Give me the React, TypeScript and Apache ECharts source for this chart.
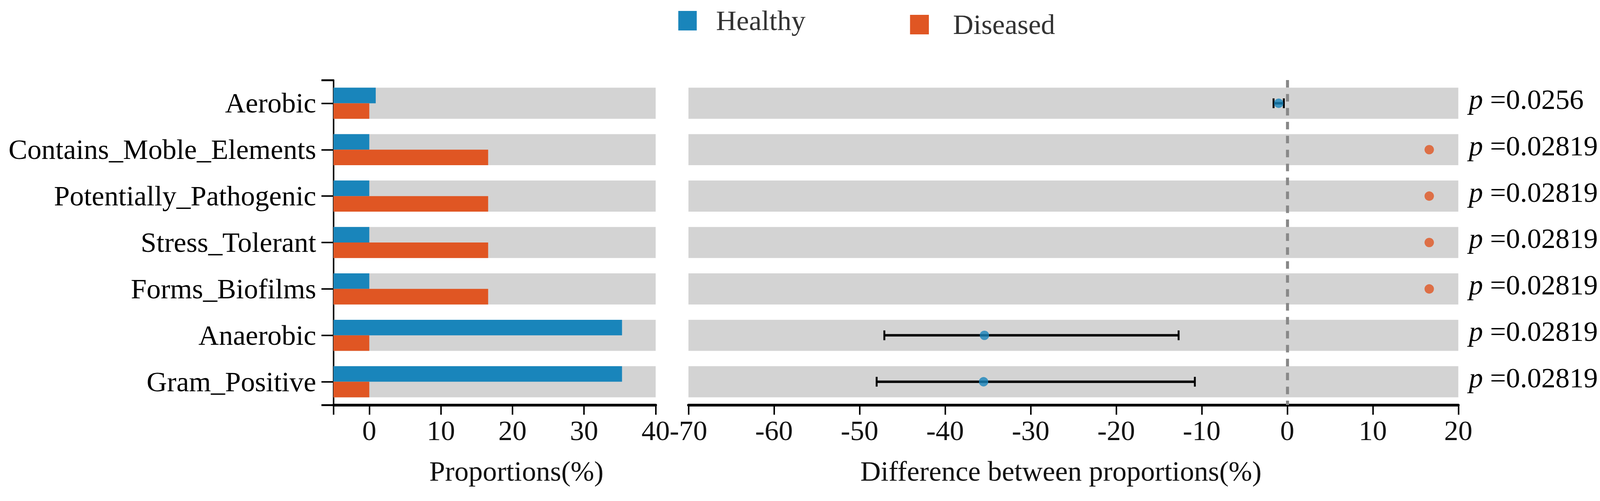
import React, { useEffect, useRef } from "react";
import * as echarts from "echarts";

const categories = [
  "Aerobic",
  "Contains_Moble_Elements",
  "Potentially_Pathogenic",
  "Stress_Tolerant",
  "Forms_Biofilms",
  "Anaerobic",
  "Gram_Positive",
];
const healthy = [0.9, 0, 0, 0, 0, 35.3, 35.3];
const diseased = [0, 16.6, 16.6, 16.6, 16.6, 0, 0];
const diffMean = [-1.0, 16.6, 16.6, 16.6, 16.6, -35.4, -35.5];
const ciLow: (number | null)[] = [-1.6, null, null, null, null, -47.1, -48.0];
const ciHigh: (number | null)[] = [-0.4, null, null, null, null, -12.7, -10.8];
const diffGroup = ["Healthy", "Diseased", "Diseased", "Diseased", "Diseased", "Healthy", "Healthy"];
const pValues = ["0.0256", "0.02819", "0.02819", "0.02819", "0.02819", "0.02819", "0.02819"];
const propTicks = [0, 10, 20, 30, 40];
const propMin = -5;
const propMax = 40;
const diffMin = -70;
const diffMax = 20;

const FONT = "'Liberation Serif', 'Times New Roman', Times, serif";
const BLUE = "#1985bb";
const ORANGE = "#e05623";
const BAND = "#d3d3d3";
const groupColor: Record<string, string> = { Healthy: BLUE, Diseased: ORANGE };
const BAND_RATIO = 0.67;

export default function App() {
  const ref = useRef<HTMLDivElement>(null);
  const W = typeof window !== "undefined" ? window.innerWidth || 4246 : 4246;
  const H = typeof window !== "undefined" ? window.innerHeight || 1283 : 1283;
  useEffect(() => {
    document.body.style.margin = "0";
    const kx = W / 4246;
    const ky = H / 1283;
    const k = Math.min(kx, ky);
    const X = (v: number) => v * kx;
    const Y = (v: number) => v * ky;
    const S = (v: number) => v * k;
    const chart = echarts.init(ref.current!, null, { renderer: "svg" });

    const bandRender = (params: any, api: any) => {
      const idx = api.value(0);
      const c = api.coord([0, idx]);
      const h = api.size([0, 1])[1] * BAND_RATIO;
      const cs = params.coordSys;
      return {
        type: "rect",
        shape: { x: cs.x, y: c[1] - h / 2, width: cs.width, height: h },
        style: { fill: BAND },
      };
    };

    const barRender = (upper: boolean, color: string) => (params: any, api: any) => {
      const idx = api.value(0);
      const v = api.value(1);
      const s = api.coord([propMin, idx]);
      const e = api.coord([v, idx]);
      const half = (api.size([0, 1])[1] * BAND_RATIO) / 2;
      return {
        type: "rect",
        shape: { x: s[0], y: upper ? s[1] - half : s[1], width: e[0] - s[0], height: half },
        style: { fill: color },
      };
    };

    const errRender = (params: any, api: any) => {
      const idx = api.value(0);
      const lo = api.coord([api.value(1), idx]);
      const hi = api.coord([api.value(2), idx]);
      const capH = S(26);
      return {
        type: "group",
        children: [
          { type: "line", shape: { x1: lo[0], y1: lo[1], x2: hi[0], y2: hi[1] }, style: { stroke: "#000", lineWidth: S(6.5) } },
          { type: "line", shape: { x1: lo[0], y1: lo[1] - capH / 2, x2: lo[0], y2: lo[1] + capH / 2 }, style: { stroke: "#000", lineWidth: S(5) } },
          { type: "line", shape: { x1: hi[0], y1: hi[1] - capH / 2, x2: hi[0], y2: hi[1] + capH / 2 }, style: { stroke: "#000", lineWidth: S(5) } },
        ],
      };
    };

    const FS = S(75);
    const labelStyle = { fontFamily: FONT, fontSize: FS, color: "#111" };

    const option: any = {
      animation: false,
      backgroundColor: "#fff",
      legend: [
        {
          data: ["Healthy"],
          left: X(1800),
          top: Y(17),
          padding: 0,
          itemWidth: S(49),
          itemHeight: S(52),
          icon: "rect",
          selectedMode: false,
          textStyle: { fontFamily: FONT, fontSize: FS, color: "#333", padding: [0, 0, 0, S(46)] },
        },
        {
          data: ["Diseased"],
          left: X(2415),
          top: Y(27),
          padding: 0,
          itemWidth: S(50),
          itemHeight: S(52),
          icon: "rect",
          selectedMode: false,
          textStyle: { fontFamily: FONT, fontSize: FS, color: "#333", padding: [0, 0, 0, S(59)] },
        },
      ],
      grid: [
        { left: X(885), top: Y(205), width: X(855), height: Y(832) },
        { left: X(1827), top: Y(205), width: X(2043), height: Y(832) },
      ],
      xAxis: [
        {
          gridIndex: 0,
          type: "value",
          min: propMin,
          max: propMax,
          splitLine: { show: false },
          axisLine: { show: true, onZero: false, lineStyle: { color: "#000", width: S(7) } },
          axisTick: { show: true, length: S(26), lineStyle: { color: "#000", width: S(4) }, customValues: [propMin, ...propTicks] },
          axisLabel: { ...labelStyle, margin: S(31), customValues: propTicks },
          name: "Proportions(%)",
          nameLocation: "middle",
          nameGap: S(139),
          nameTextStyle: { fontFamily: FONT, fontSize: FS, color: "#111", padding: [0, 0, 0, S(116)] },
        },
        {
          gridIndex: 1,
          type: "value",
          min: diffMin,
          max: diffMax,
          interval: 10,
          splitLine: { show: false },
          axisLine: { show: true, onZero: false, lineStyle: { color: "#000", width: S(7) } },
          axisTick: { show: true, length: S(26), lineStyle: { color: "#000", width: S(4) } },
          axisLabel: { ...labelStyle, margin: S(31) },
          name: "Difference between proportions(%)",
          nameLocation: "middle",
          nameGap: S(139),
          nameTextStyle: { fontFamily: FONT, fontSize: FS, color: "#111", padding: [0, S(66), 0, 0] },
        },
      ],
      yAxis: [
        {
          gridIndex: 0,
          type: "category",
          data: categories,
          inverse: true,
          position: "left",
          axisLine: { show: true, onZero: false, lineStyle: { color: "#000", width: S(4) } },
          axisTick: { show: true, alignWithLabel: true, length: S(32), lineStyle: { color: "#000", width: S(4) } },
          axisLabel: { fontFamily: FONT, fontSize: FS, color: "#000", margin: S(46), padding: [0, 0, S(20), 0] },
        },
        {
          gridIndex: 0,
          type: "value",
          min: 0,
          max: 7,
          position: "left",
          offset: 0,
          splitLine: { show: false },
          axisLine: { show: false, onZero: false },
          axisTick: { show: true, length: S(32), lineStyle: { color: "#000", width: S(5) }, customValues: [0, 7] },
          axisLabel: { show: false },
        },
        {
          gridIndex: 1,
          type: "category",
          data: categories,
          inverse: true,
          show: false,
        },
        {
          gridIndex: 1,
          type: "category",
          data: pValues,
          inverse: true,
          position: "right",
          axisLine: { show: false, onZero: false },
          axisTick: { show: false },
          axisLabel: {
            fontFamily: FONT,
            fontSize: FS,
            color: "#000",
            margin: S(28),
            padding: [0, 0, S(20), 0],
            formatter: (v: string) => `{i|p} =${v}`,
            rich: { i: { fontFamily: FONT, fontSize: FS, fontStyle: "italic", color: "#000" } },
          },
        },
      ],
      series: [
        {
          type: "custom",
          name: "bandL",
          xAxisIndex: 0,
          yAxisIndex: 0,
          silent: true,
          z: 1,
          renderItem: bandRender,
          encode: { y: 0 },
          data: categories.map((_, i) => [i]),
        },
        {
          type: "custom",
          name: "Healthy",
          xAxisIndex: 0,
          yAxisIndex: 0,
          z: 2,
          itemStyle: { color: BLUE },
          renderItem: barRender(true, BLUE),
          encode: { y: 0, x: 1 },
          data: categories.map((_, i) => [i, healthy[i]]),
        },
        {
          type: "custom",
          name: "Diseased",
          xAxisIndex: 0,
          yAxisIndex: 0,
          z: 2,
          itemStyle: { color: ORANGE },
          renderItem: barRender(false, ORANGE),
          encode: { y: 0, x: 1 },
          data: categories.map((_, i) => [i, diseased[i]]),
        },
        {
          type: "custom",
          name: "bandR",
          xAxisIndex: 1,
          yAxisIndex: 2,
          silent: true,
          z: 1,
          renderItem: bandRender,
          encode: { y: 0 },
          data: categories.map((_, i) => [i]),
        },
        {
          type: "custom",
          name: "ci",
          xAxisIndex: 1,
          yAxisIndex: 2,
          z: 3,
          renderItem: errRender,
          encode: { y: 0, x: [1, 2] },
          data: categories
            .map((_, i) => [i, ciLow[i], ciHigh[i]])
            .filter((d) => d[1] !== null && d[2] !== null),
        },
        {
          type: "scatter",
          name: "diff",
          xAxisIndex: 1,
          yAxisIndex: 2,
          z: 4,
          symbol: "circle",
          symbolSize: S(25),
          data: categories.map((_, i) => ({
            value: [diffMean[i], i],
            itemStyle: { color: groupColor[diffGroup[i]] },
          })),
          markLine: {
            silent: true,
            symbol: "none",
            label: { show: false },
            lineStyle: { type: [S(20), S(17)], width: S(8), color: "#888" },
            data: [{ xAxis: 0 }],
          },
        },
      ],
    };
    chart.setOption(option);
    return () => chart.dispose();
  }, []);
  return <div ref={ref} style={{ position: "fixed", left: 0, top: 0, width: W, height: H }} />;
}
